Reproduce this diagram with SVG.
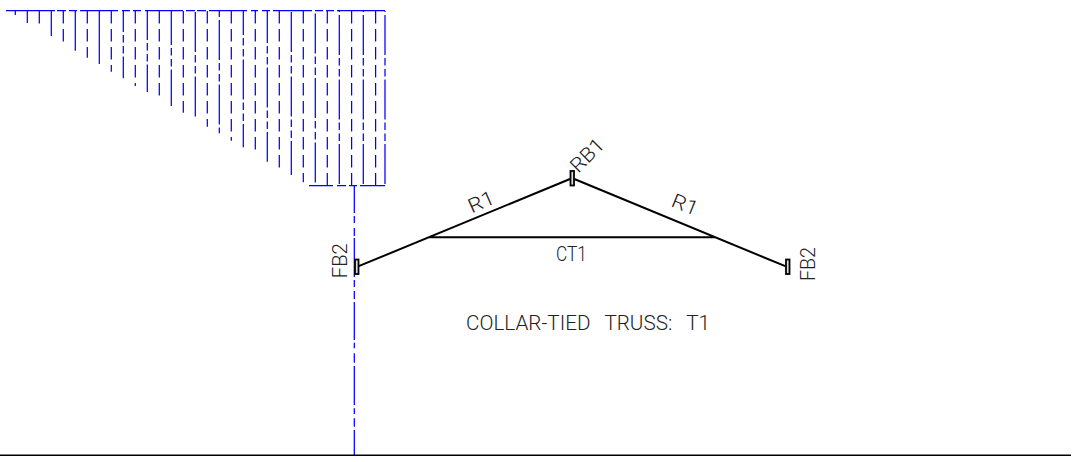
<svg xmlns="http://www.w3.org/2000/svg" width="1079" height="462" viewBox="0 0 1079 462">
<style>
.b{stroke:#0000ff;stroke-width:1.25;fill:none}
.l{stroke-dasharray:40 3 7.5 3.5 7.5 3}
.s{stroke-dasharray:12.5 5.5}
.k{stroke:#000;stroke-width:2;fill:none}
.p{stroke:#000;stroke-width:1.8;fill:#ddd}
text{font-family:"Roboto","Liberation Sans",sans-serif;font-weight:300;font-size:20px;fill:#222;text-anchor:middle}
</style>
<rect width="1079" height="462" fill="#fff"/>
<g id="tributary-area">
<path class="b" d="M6 10.5H55M57 10.5H66M69 10.5H77M80 10.5H118M122 10.5H130M133 10.5H141M145 10.5H183M186 10.5H195M197 10.5H206M209 10.5H247M251 10.5H258M262 10.5H270M273 10.5H312M315 10.5H323M326 10.5H334M337 10.5H385"/>
<path class="b" d="M309 185.7H333M337 185.7H346M349 185.7H357M360 185.7H385"/>
<path class="b" d="M27.3 11V23M51.3 11V36M75.3 11V50.7M99.3 11V64"/>
<path class="b s" d="M15.3 11V15M39.3 11V24M63.3 11V42M87.3 11V57.7M111.3 11V71.7M135.3 11V86M159.3 11V96.7M183.3 11V112.7M207.3 11V126.7M231.3 11V140.7M255.3 11V150.7M279.3 11V168M303.3 11V182.3M327.3 11V186M351.6 11V186M375.6 11V186"/>
<line class="b l" stroke-dashoffset="19" x1="123.3" y1="11" x2="123.3" y2="78.3"/>
<line class="b l" stroke-dashoffset="11" x1="147.3" y1="11" x2="147.3" y2="92"/>
<line class="b l" stroke-dashoffset="6" x1="171.3" y1="11" x2="171.3" y2="106"/>
<line class="b l" stroke-dashoffset="-1" x1="195.3" y1="11" x2="195.3" y2="119.3"/>
<line class="b l" stroke-dashoffset="-9" x1="219.3" y1="11" x2="219.3" y2="133.3"/>
<line class="b l" stroke-dashoffset="16" x1="243.3" y1="11" x2="243.3" y2="147.3"/>
<line class="b l" stroke-dashoffset="8" x1="267.3" y1="11" x2="267.3" y2="161.7"/>
<line class="b l" stroke-dashoffset="-1" x1="291.3" y1="11" x2="291.3" y2="175"/>
<line class="b l" stroke-dashoffset="-2.5" x1="315.3" y1="11" x2="315.3" y2="186"/>
<line class="b l" stroke-dashoffset="-4" x1="339.3" y1="11" x2="339.3" y2="186"/>
<line class="b l" stroke-dashoffset="-4" x1="363.3" y1="11" x2="363.3" y2="186"/>
<line class="b l" stroke-dashoffset="-4" x1="385" y1="11" x2="385" y2="186"/>
</g>
<g id="connectors">
<path class="b" d="M354.3 186V213M354.3 216V223M354.3 228V236M354.3 238V277M354.3 280V287M354.3 291V299M354.3 302V340M354.3 342.7V348.3M354.3 353.3V362.7M354.3 366V405M354.3 408.3V414M354.3 418.3V426.7M354.3 430V455"/>
<path class="k" d="M358.7 266.2L570 179M574.3 179L785.3 266.2M429.3 237.3H715"/>
<line x1="0" y1="455.2" x2="1071" y2="455.2" stroke="#000" stroke-width="1.4"/>
</g>
<g id="FB2-left">
<rect class="p" x="355" y="259.5" width="3.5" height="14.5"/>
<text transform="translate(346.5 260.7) rotate(-90)" textLength="35" lengthAdjust="spacingAndGlyphs">FB2</text>
</g>
<g id="RB1">
<rect class="p" x="570.5" y="171" width="3.5" height="14.5"/>
<text transform="translate(592 160) rotate(-45)" textLength="39" lengthAdjust="spacingAndGlyphs">RB1</text>
</g>
<g id="FB2-right">
<rect class="p" x="786" y="259.5" width="3.5" height="14.5"/>
<text transform="translate(814.5 264) rotate(-90)" textLength="34" lengthAdjust="spacingAndGlyphs">FB2</text>
</g>
<g id="labels">
<text transform="translate(484 208) rotate(-24)" textLength="27" lengthAdjust="spacingAndGlyphs">R1</text>
<text transform="translate(682.5 211) rotate(22)" textLength="27" lengthAdjust="spacingAndGlyphs">R1</text>
<text x="571.5" y="260.5" textLength="31" lengthAdjust="spacingAndGlyphs">CT1</text>
<text x="588" y="330" word-spacing="9" textLength="244" lengthAdjust="spacingAndGlyphs">COLLAR-TIED TRUSS: T1</text>
</g>
</svg>
